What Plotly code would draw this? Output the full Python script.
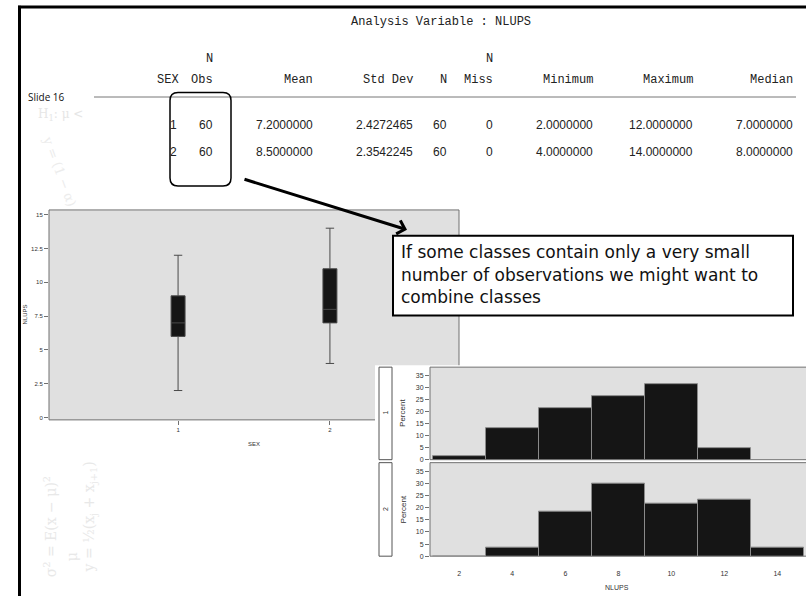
import plotly.graph_objects as go

W, H = 806, 596


def X(px):
    return px / W


def Y(py):
    return 1 - py / H


# ---------------- data ----------------
table_title = "Analysis Variable : NLUPS"
header_top = ["", "N", "", "", "", "N", "", "", ""]
headers = ["SEX", "Obs", "Mean", "Std Dev", "N", "Miss", "Minimum", "Maximum", "Median"]
row_sex1 = ["1", "60", "7.2000000", "2.4272465", "60", "0", "2.0000000", "12.0000000", "7.0000000"]
row_sex2 = ["2", "60", "8.5000000", "2.3542245", "60", "0", "4.0000000", "14.0000000", "8.0000000"]

sex_groups = [1, 2]
box_q1 = [6, 7]
box_median = [7, 8]
box_q3 = [9, 11]
box_lower = [2, 4]
box_upper = [12, 14]

nlups_bins = [2, 4, 6, 8, 10, 12, 14]
pct_sex1 = [1.67, 13.33, 21.67, 26.67, 31.67, 5.0, 0]
pct_sex2 = [0, 3.33, 18.33, 30.0, 21.67, 23.33, 3.33]

box_yticks = [0, 2.5, 5, 7.5, 10, 12.5, 15]
box_yticktext = ["0", "2.5", "5", "7.5", "10", "12.5", "15"]
hist_yticks = [0, 5, 10, 15, 20, 25, 30, 35]
hist_xticks = [2, 4, 6, 8, 10, 12, 14]

note_lines = ["If some classes contain only a very small",
              "number of observations we might want to",
              "combine classes"]

# ---------------- layout helpers ----------------
col_right = [181, 215, 315, 415, 449, 495, 595, 695, 795]
TFONT = "Liberation Sans, Arial, sans-serif"
MONO = "Liberation Mono, DejaVu Sans Mono, monospace"
GRAY_BG = "#e0e0e0"
FRAME = "#707070"
BARC = "#151515"

fig = go.Figure()

fig.add_trace(go.Box(
    x=sex_groups, q1=box_q1, median=box_median, q3=box_q3,
    lowerfence=box_lower, upperfence=box_upper,
    fillcolor=BARC, line=dict(color="#4a4a4a", width=1),
    width=0.092, whiskerwidth=0.6, boxpoints=False,
    xaxis="x", yaxis="y", showlegend=False, hoverinfo="skip"))

fig.add_trace(go.Bar(
    x=nlups_bins, y=pct_sex1, width=2,
    marker=dict(color=BARC, line=dict(color="#8a8a8a", width=1)),
    xaxis="x2", yaxis="y2", showlegend=False))
fig.add_trace(go.Bar(
    x=nlups_bins, y=pct_sex2, width=2,
    marker=dict(color=BARC, line=dict(color="#8a8a8a", width=1)),
    xaxis="x3", yaxis="y3", showlegend=False))

tickf_small = dict(family=TFONT, size=6, color="#333")
tickf_hist = dict(family=TFONT, size=7, color="#333")

fig.update_layout(
    width=W, height=H, margin=dict(l=0, r=0, t=0, b=0),
    paper_bgcolor="white", plot_bgcolor="rgba(0,0,0,0)",
    bargap=0,
    xaxis=dict(domain=[X(49), X(459)], range=[0.15, 2.85], anchor="y",
               tickvals=sex_groups, ticks="outside", ticklen=4, tickcolor=FRAME,
               tickfont=tickf_small, showgrid=False, zeroline=False, showline=False),
    yaxis=dict(domain=[Y(422), Y(211)], range=[-0.17, 15.35], anchor="x",
               tickvals=box_yticks, ticktext=box_yticktext, ticks="outside", ticklen=4,
               tickcolor=FRAME, tickfont=tickf_small, showgrid=False, zeroline=False,
               showline=False),
    xaxis2=dict(domain=[X(430), 1], range=[0.894, 15.08], anchor="y2",
                showticklabels=False, ticks="", showgrid=False, zeroline=False,
                showline=False),
    yaxis2=dict(domain=[Y(462), Y(369)], range=[0, 38.6], anchor="x2",
                tickvals=hist_yticks, ticks="outside", ticklen=4, tickcolor=FRAME,
                tickfont=tickf_hist, showgrid=False, zeroline=False, showline=False),
    xaxis3=dict(domain=[X(430), 1], range=[0.894, 15.08], anchor="y3",
                tickvals=hist_xticks, ticks="", tickfont=tickf_hist,
                ticklabelstandoff=12,
                showgrid=False, zeroline=False, showline=False),
    yaxis3=dict(domain=[Y(559), Y(465)], range=[0, 38.6], anchor="x3",
                tickvals=hist_yticks, ticks="outside", ticklen=4, tickcolor=FRAME,
                tickfont=tickf_hist, showgrid=False, zeroline=False, showline=False),
)

shapes = []
# boxplot panel background + frame
shapes.append(dict(type="rect", xref="x domain", yref="y domain", x0=0, x1=1, y0=0, y1=1,
                   fillcolor=GRAY_BG, line=dict(color=FRAME, width=1), layer="below"))
# white overlay of the histogram picture
shapes.append(dict(type="rect", xref="paper", yref="paper", x0=X(375), x1=1.02,
                   y0=-0.02, y1=Y(367), fillcolor="white", line=dict(width=0), layer="below"))
# histogram panels
for xa, ya in (("x2", "y2"), ("x3", "y3")):
    shapes.append(dict(type="rect", xref=xa + " domain", yref=ya + " domain", x0=0, x1=1.05,
                       y0=0, y1=1, fillcolor=GRAY_BG, line=dict(color=FRAME, width=1),
                       layer="below"))
# strip label boxes
for top, bot in ((369, 462), (465, 559)):
    shapes.append(dict(type="rect", xref="paper", yref="paper", x0=X(379), x1=X(392),
                       y0=Y(bot), y1=Y(top), fillcolor="white",
                       line=dict(color="#555", width=1), layer="below"))
# table rule
shapes.append(dict(type="line", xref="paper", yref="paper", x0=X(94), x1=X(796),
                   y0=Y(97.5), y1=Y(97.5), line=dict(color="#777", width=1)))
# slide frame
shapes.append(dict(type="line", xref="paper", yref="paper", x0=X(19.5), x1=X(19.5),
                   y0=-0.01, y1=Y(5.8), line=dict(color="black", width=3), layer="above"))
shapes.append(dict(type="line", xref="paper", yref="paper", x0=X(18), x1=1.01,
                   y0=Y(7), y1=Y(7), line=dict(color="black", width=3), layer="above"))
# rounded rectangle around N Obs
x0, x1, y0, y1, r = 170, 231, 93, 187, 8
path = (f"M {X(x0 + r)},{Y(y0)} L {X(x1 - r)},{Y(y0)} "
        f"Q {X(x1)},{Y(y0)} {X(x1)},{Y(y0 + r)} L {X(x1)},{Y(y1 - r)} "
        f"Q {X(x1)},{Y(y1)} {X(x1 - r)},{Y(y1)} L {X(x0 + r)},{Y(y1)} "
        f"Q {X(x0)},{Y(y1)} {X(x0)},{Y(y1 - r)} L {X(x0)},{Y(y0 + r)} "
        f"Q {X(x0)},{Y(y0)} {X(x0 + r)},{Y(y0)} Z")
shapes.append(dict(type="path", xref="paper", yref="paper", path=path,
                   line=dict(color="black", width=1.5), layer="above"))
# note box
shapes.append(dict(type="rect", xref="paper", yref="paper", x0=X(393), x1=X(793),
                   y0=Y(317), y1=Y(237), fillcolor="white",
                   line=dict(color="black", width=2), layer="above"))
fig.update_layout(shapes=shapes)

ann = []


def txt(x, y, s, size=12, color="#222", xanchor="right", family=TFONT, angle=0):
    ann.append(dict(x=X(x), y=Y(y), xref="paper", yref="paper", text=s, showarrow=False,
                    xanchor=xanchor, yanchor="middle", textangle=angle,
                    font=dict(family=family, size=size, color=color)))


# faint slide decoration
MATH = "DejaVu Serif, serif"
txt(36, 116, "H<sub>1</sub>: μ <", 12, "#e6e6e6", "left", MATH)
txt(60, 172, "y = (1 − α)", 13, "#ececec", "center", MATH, 70)
txt(50, 530, "σ<sup>2</sup> = E(x − μ)<sup>2</sup>", 14, "#e8e8e8", "center", MATH, -90)
txt(72, 560, "μ", 14, "#e8e8e8", "center", MATH, -90)
txt(90, 520, "y = ½(x<sub>j</sub> + x<sub>j+1</sub>)", 14, "#e8e8e8", "center", MATH, -90)

# table
txt(441, 22, table_title, 12, "#222", "center", MONO)
for i, h in enumerate(header_top):
    if h:
        txt(col_right[i], 59, h, 12, "#222", "right", MONO)
for i, h in enumerate(headers):
    txt(col_right[i], 80, h, 12, "#222", "right", MONO)
for i, v in enumerate(row_sex1):
    txt(col_right[i] - (2 if i == 0 else 0), 126, v)
for i, v in enumerate(row_sex2):
    txt(col_right[i] - (2 if i == 0 else 0), 153, v)
txt(26, 97, "Slide 16", 10, "#111", "left", "Open Sans, Liberation Sans, sans-serif")

# axis titles
txt(25, 316, "NLUPS", 6, "#333", "center", TFONT, -90)
txt(254, 446, "SEX", 6, "#333", "center")
txt(403, 415, "Percent", 8, "#333", "center", TFONT, -90)
txt(403, 512, "Percent", 8, "#333", "center", TFONT, -90)
txt(385.5, 415, "1", 7, "#333", "center", TFONT, -90)
txt(385.5, 512, "2", 7, "#333", "center", TFONT, -90)
txt(617, 590, "NLUPS", 7, "#333", "center")

# note text
for k, line in enumerate(note_lines):
    txt(399, 253 + 23 * k, line, 17, "#111", "left", "DejaVu Sans, Verdana, sans-serif")

# arrow
ann.append(dict(x=X(407), y=Y(231), xref="paper", yref="paper", text="",
                showarrow=True, ax=243 - 407, ay=180 - 231, arrowhead=4,
                arrowsize=0.9, arrowwidth=3, arrowcolor="black"))

fig.update_layout(annotations=ann)
fig.write_html("out.html")
